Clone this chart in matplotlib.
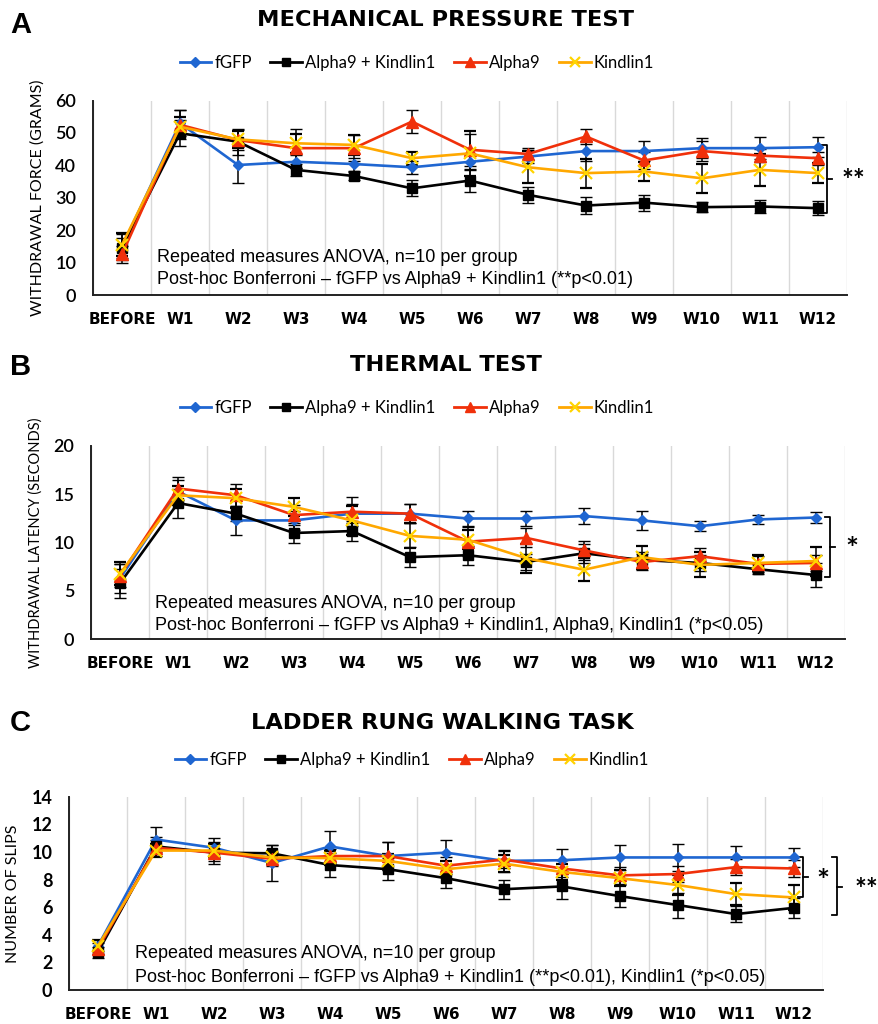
import numpy as np
import matplotlib
matplotlib.use("Agg")
import matplotlib.pyplot as plt
import matplotlib.transforms as mtransforms
from matplotlib.lines import Line2D

# ---------------- data ----------------
categories = ["BEFORE", "W1", "W2", "W3", "W4", "W5", "W6", "W7", "W8", "W9", "W10", "W11", "W12"]
series_names = ["fGFP", "Alpha9 + Kindlin1", "Alpha9", "Kindlin1"]

# Panel A: mechanical pressure test (grams)
mech_fgfp = [14.8, 53.0, 40.1, 41.1, 40.4, 39.4, 41.1, 42.7, 44.4, 44.4, 45.3, 45.3, 45.6]
mech_a9k1 = [14.5, 49.9, 47.3, 38.6, 36.7, 32.9, 35.3, 30.9, 27.6, 28.5, 27.1, 27.3, 26.8]
mech_a9 = [12.5, 52.5, 47.8, 45.3, 45.3, 53.5, 44.8, 43.5, 48.9, 41.5, 44.4, 43.0, 42.2]
mech_k1 = [15.5, 51.9, 48.0, 46.8, 46.3, 42.2, 43.7, 39.4, 37.6, 38.1, 36.0, 38.6, 37.6]
mech_fgfp_err = [4.0, 4.0, 5.5, 2.0, 2.0, 2.0, 2.5, 2.0, 3.0, 3.0, 3.0, 3.5, 3.0]
mech_a9k1_err = [3.0, 4.0, 4.0, 1.8, 1.3, 2.5, 3.5, 2.5, 2.5, 2.5, 1.5, 2.0, 2.2]
mech_a9_err = [2.5, 4.5, 3.0, 6.0, 4.0, 3.5, 5.0, 2.0, 2.4, 2.5, 3.0, 2.0, 2.0]
mech_k1_err = [3.5, 3.0, 2.5, 3.0, 3.0, 2.0, 7.0, 5.0, 4.5, 3.0, 4.5, 5.0, 3.0]

# Panel B: thermal test (seconds)
therm_fgfp = [6.3, 15.3, 12.3, 12.3, 13.0, 13.0, 12.5, 12.5, 12.75, 12.3, 11.7, 12.4, 12.6]
therm_a9k1 = [5.8, 14.1, 13.0, 11.0, 11.2, 8.5, 8.7, 8.0, 8.9, 8.2, 7.9, 7.25, 6.65]
therm_a9 = [6.6, 15.6, 14.9, 12.85, 13.2, 13.0, 10.1, 10.5, 9.2, 8.0, 8.6, 7.8, 7.9]
therm_k1 = [6.8, 14.9, 14.6, 13.7, 12.3, 10.7, 10.3, 8.4, 7.2, 8.5, 7.7, 7.9, 8.1]
therm_fgfp_err = [1.5, 1.2, 1.5, 1.0, 1.0, 1.0, 0.8, 0.8, 0.8, 1.0, 0.5, 0.5, 0.6]
therm_a9k1_err = [1.5, 1.5, 0.8, 1.0, 1.0, 1.0, 1.0, 0.8, 1.0, 0.8, 0.8, 0.5, 1.2]
therm_a9_err = [1.2, 1.2, 1.2, 1.0, 1.5, 1.0, 1.5, 1.0, 1.0, 0.8, 0.8, 0.8, 0.8]
therm_k1_err = [1.2, 1.0, 1.0, 0.9, 1.5, 1.3, 1.0, 1.5, 1.2, 1.2, 1.3, 0.8, 1.5]

# Panel C: ladder rung walking task (number of slips)
slip_fgfp = [3.2, 10.9, 10.3, 9.2, 10.4, 9.7, 9.95, 9.35, 9.4, 9.6, 9.6, 9.6, 9.6]
slip_a9k1 = [2.75, 10.4, 9.95, 9.9, 9.05, 8.75, 8.1, 7.3, 7.5, 6.8, 6.15, 5.5, 5.95]
slip_a9 = [3.0, 10.3, 9.95, 9.5, 9.7, 9.7, 9.0, 9.45, 8.8, 8.3, 8.4, 8.9, 8.8]
slip_k1 = [3.2, 10.1, 10.1, 9.6, 9.55, 9.35, 8.75, 9.15, 8.55, 8.1, 7.6, 6.95, 6.7]
slip_fgfp_err = [0.4, 0.9, 0.7, 1.3, 1.1, 1.0, 0.9, 0.8, 0.8, 0.9, 1.0, 0.8, 0.7]
slip_a9k1_err = [0.4, 0.7, 0.8, 0.6, 0.9, 0.8, 0.7, 0.7, 0.9, 0.8, 0.9, 0.6, 0.7]
slip_a9_err = [0.4, 0.6, 0.6, 0.5, 0.5, 1.0, 0.6, 0.6, 0.6, 0.6, 0.6, 0.6, 0.6]
slip_k1_err = [0.4, 0.5, 0.5, 0.5, 0.5, 0.5, 0.6, 0.6, 0.6, 0.6, 0.7, 0.8, 0.9]

# ---------------- style ----------------
W, H = 879, 1024
fig = plt.figure(figsize=(W / 100, H / 100), dpi=100)
fig.patch.set_facecolor("white")

def fx(px):
    return px / W

def fy(py):
    return 1 - py / H

CAL = ["Lato", "DejaVu Sans"]
WIDE = ["DejaVu Sans"]
ARIAL = ["Liberation Sans", "DejaVu Sans"]

styles = [
    dict(color="#1F66D1", marker="D", ms=5.5, mfc="#1F66D1", mec="#1F66D1", mew=1.0),
    dict(color="#000000", marker="s", ms=7, mfc="#000000", mec="#000000", mew=1.0),
    dict(color="#F0300A", marker="^", ms=8, mfc="#F0300A", mec="#F0300A", mew=1.0),
    dict(color="#FFA800", marker="x", ms=8, mfc="#FFD400", mec="#FFD400", mew=1.6),
]

x = np.arange(len(categories))


def make_panel(rect, ylim, yticks, ylabel, ylabel_size, series, errs, ybold):
    ax = fig.add_axes(rect)
    for vals, err, st in zip(series, errs, styles):
        ax.errorbar(x, vals, yerr=err, ecolor="black", elinewidth=1.1, capsize=4,
                    capthick=1.1, lw=1.9, zorder=3, **st)
    ax.set_xlim(-0.5, len(categories) - 0.5)
    ax.set_ylim(*ylim)
    ax.set_yticks(yticks)
    ax.set_yticklabels([str(t) for t in yticks], family=CAL, fontsize=13,
                       fontweight="bold" if ybold else "semibold")
    ax.set_xticks(x)
    ax.set_xticklabels(categories, family=WIDE, fontsize=11, fontweight="bold")
    ax.set_xticks(np.arange(-0.5, len(categories)), minor=True)
    ax.grid(which="minor", axis="x", color="#D9D9D9", lw=1.0)
    ax.tick_params(which="both", length=0)
    ax.tick_params(axis="y", pad=12)
    ax.tick_params(axis="x", pad=12)
    for s in ["top", "right"]:
        ax.spines[s].set_visible(False)
    for s in ["left", "bottom"]:
        ax.spines[s].set_color("#222222")
        ax.spines[s].set_linewidth(1.4)
    ax.set_axisbelow(True)
    ax.set_ylabel(ylabel, family=CAL, fontsize=ylabel_size, labelpad=8)
    return ax


def bracket(ax, xa, y0, y1, ytick, arm=0.007, tick=0.007):
    tr = mtransforms.blended_transform_factory(ax.transAxes, ax.transData)
    ax.plot([xa - arm, xa, xa, xa - arm], [y1, y1, y0, y0], color="black", lw=1.3,
            transform=tr, clip_on=False)
    ax.plot([xa, xa + tick], [ytick, ytick], color="black", lw=1.3, transform=tr, clip_on=False)


def legend_for(ax, ypx, xcenter_px):
    handles = [Line2D([0], [0], color=st["color"], marker=st["marker"], ms=st["ms"] * 0.85,
                      mfc=st["mfc"], mec=st["mec"], mew=st["mew"], lw=2.0) for st in styles]
    fig.legend(handles, series_names, loc="center", ncol=4, frameon=False,
               bbox_to_anchor=(fx(xcenter_px), fy(ypx)), prop=dict(family=CAL, size=12),
               handlelength=1.9, handletextpad=0.2, columnspacing=1.1)


TITLE_KW = dict(family=WIDE, fontsize=16.2, fontweight="bold", ha="center", va="center")

# ---------------- Panel A ----------------
axA = make_panel([fx(93), fy(295), fx(754), (295 - 100.5) / H], (0, 60), list(range(0, 61, 10)),
                 "WITHDRAWAL FORCE (GRAMS)", 11.5,
                 [mech_fgfp, mech_a9k1, mech_a9, mech_k1],
                 [mech_fgfp_err, mech_a9k1_err, mech_a9_err, mech_k1_err], False)
fig.text(fx(10), fy(25), "A", family=ARIAL, fontsize=21, fontweight="bold", va="center")
fig.text(fx(446), fy(20), "MECHANICAL PRESSURE TEST", **TITLE_KW)
legend_for(axA, 63, 417)
fig.text(fx(157), fy(257), "Repeated measures ANOVA, n=10 per group", family=ARIAL,
         fontsize=13, va="center")
fig.text(fx(157), fy(280), "Post-hoc Bonferroni \u2013 fGFP vs Alpha9 + Kindlin1 (**p<0.01)",
         family=ARIAL, fontsize=13, va="center")
bracket(axA, 0.973, 25.4, 46.3, 35.8)
fig.text(fx(853), fy(181), "**", family=CAL, fontsize=20, fontweight="bold", ha="center",
         va="center")

# ---------------- Panel B ----------------
axB = make_panel([fx(91), fy(639.3), fx(754), (639.3 - 446) / H], (0, 20), list(range(0, 21, 5)),
                 "WITHDRAWAL LATENCY (SECONDS)", 10.5,
                 [therm_fgfp, therm_a9k1, therm_a9, therm_k1],
                 [therm_fgfp_err, therm_a9k1_err, therm_a9_err, therm_k1_err], False)
fig.text(fx(10), fy(367), "B", family=ARIAL, fontsize=21, fontweight="bold", va="center")
fig.text(fx(446), fy(365), "THERMAL TEST", **TITLE_KW)
legend_for(axB, 408, 417)
fig.text(fx(155), fy(603), "Repeated measures ANOVA, n=10 per group", family=ARIAL,
         fontsize=13, va="center")
fig.text(fx(155), fy(626),
         "Post-hoc Bonferroni \u2013 fGFP vs Alpha9 + Kindlin1, Alpha9, Kindlin1 (*p<0.05)",
         family=ARIAL, fontsize=13, va="center")
bracket(axB, 0.98, 6.47, 12.68, 9.58)
fig.text(fx(852), fy(550), "*", family=CAL, fontsize=22, fontweight="bold", ha="center",
         va="center")

# ---------------- Panel C ----------------
axC = make_panel([fx(69), fy(990), fx(754), (990 - 796.7) / H], (0, 14), list(range(0, 15, 2)),
                 "NUMBER OF SLIPS", 11.5,
                 [slip_fgfp, slip_a9k1, slip_a9, slip_k1],
                 [slip_fgfp_err, slip_a9k1_err, slip_a9_err, slip_k1_err], True)
fig.text(fx(10), fy(723), "C", family=ARIAL, fontsize=21, fontweight="bold", va="center")
fig.text(fx(442), fy(723), "LADDER RUNG WALKING TASK", **TITLE_KW)
legend_for(axC, 760, 412)
fig.text(fx(135), fy(953), "Repeated measures ANOVA, n=10 per group", family=ARIAL,
         fontsize=13, va="center")
fig.text(fx(135), fy(977),
         "Post-hoc Bonferroni \u2013 fGFP vs Alpha9 + Kindlin1 (**p<0.01), Kindlin1 (*p<0.05)",
         family=ARIAL, fontsize=13, va="center")
bracket(axC, 0.9735, 6.72, 9.62, 8.2)
bracket(axC, 1.0186, 5.43, 9.62, 7.48)
fig.text(fx(823), fy(882), "*", family=CAL, fontsize=22, fontweight="bold", ha="center",
         va="center")
fig.text(fx(866), fy(890), "**", family=CAL, fontsize=20, fontweight="bold", ha="center",
         va="center")

fig.savefig("out.png", dpi=100, facecolor="white")
